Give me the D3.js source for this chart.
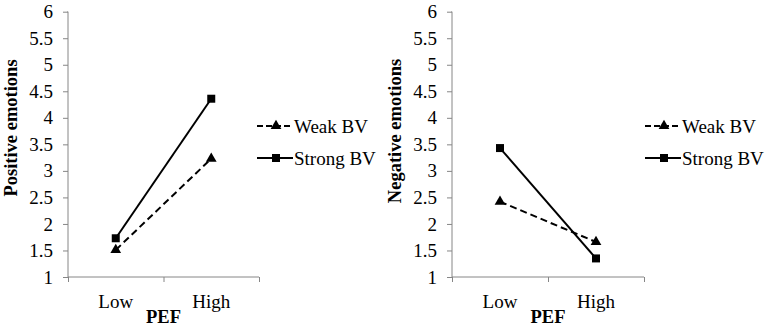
<!DOCTYPE html>
<html>
<head>
<meta charset="utf-8">
<script src="https://cdn.jsdelivr.net/npm/d3@7"></script>
</head>
<body style="margin:0;background:#fff">
<svg id="chart" width="765" height="329"></svg>
<script>
const categories = ["Low", "High"];
const yTicks = [1, 1.5, 2, 2.5, 3, 3.5, 4, 4.5, 5, 5.5, 6];
const seriesNames = ["Weak BV", "Strong BV"];

// positive emotions
const posWeak = [1.51, 3.23];
const posStrong = [1.73, 4.36];

// negative emotions
const negWeak = [2.42, 1.66];
const negStrong = [3.43, 1.35];

const FONT = "'Times New Roman', Times, serif";
const svg = d3.select("#chart");

function drawPanel(opts) {
    const g = svg.append("g");
    const x0 = opts.x0, x1 = opts.x1;
    const yTop = 11.7, yBottom = 277;

    const y = d3.scaleLinear().domain([1, 6]).range([yBottom, yTop]);
    const x = d3.scalePoint().domain(categories).range([x0, x1]).padding(0.5);
    const xEdges = d3.scaleLinear().domain([0, categories.length]).range([x0, x1]);

    // y axis
    const yAxis = g.append("g")
        .attr("transform", `translate(${x0},0)`)
        .call(d3.axisLeft(y).tickValues(yTicks).tickSize(5).tickPadding(10).tickFormat(d => String(d)));
    yAxis.select(".domain").attr("stroke", "#868686").attr("d", `M-0.5,${yTop}H0V${yBottom}`);
    yAxis.selectAll(".tick line").attr("stroke", "#868686");
    yAxis.selectAll(".tick text")
        .style("font-family", FONT)
        .style("font-size", "19px");

    // x axis
    const xAxis = g.append("g")
        .attr("transform", `translate(0,${yBottom})`)
        .call(d3.axisBottom(xEdges).tickValues(d3.range(categories.length + 1)).tickSize(5).tickFormat(""));
    xAxis.select(".domain").attr("stroke", "#868686").attr("d", `M${x0},0H${x1}`);
    xAxis.selectAll(".tick line").attr("stroke", "#868686");

    g.selectAll(".cat")
        .data(categories)
        .join("text")
        .attr("x", d => x(d))
        .attr("y", 308)
        .attr("text-anchor", "middle")
        .style("font-family", FONT)
        .style("font-size", "19px")
        .text(d => d);

    g.append("text")
        .attr("x", (x0 + x1) / 2)
        .attr("y", 323)
        .attr("text-anchor", "middle")
        .style("font-family", FONT)
        .style("font-size", "18.5px")
        .style("font-weight", "bold")
        .text("PEF");

    g.append("text")
        .attr("transform", `translate(${opts.titleX},${opts.titleY}) rotate(-90)`)
        .attr("text-anchor", "middle")
        .attr("dy", "0.35em")
        .style("font-family", FONT)
        .style("font-size", "18.5px")
        .style("font-weight", "bold")
        .text(opts.title);

    const line = d3.line().x((d, i) => x(categories[i])).y(d => y(d));
    const series = [
        { name: seriesNames[0], values: opts.weak, dash: "7,4", symbol: d3.symbolTriangle, size: 50 },
        { name: seriesNames[1], values: opts.strong, dash: null, symbol: d3.symbolSquare, size: 64 }
    ];

    series.forEach(s => {
        g.append("path")
            .datum(s.values)
            .attr("fill", "none")
            .attr("stroke", "#000")
            .attr("stroke-width", 2)
            .attr("stroke-dasharray", s.dash)
            .attr("d", line);
        g.selectAll(null)
            .data(s.values)
            .join("path")
            .attr("transform", (d, i) => `translate(${x(categories[i])},${y(d)})`)
            .attr("d", d3.symbol().type(s.symbol).size(s.size))
            .attr("fill", "#000");
    });

    // legend
    const lx = opts.legendX;
    series.forEach((s, i) => {
        const ly = 126 + i * 32;
        g.append("line")
            .attr("x1", lx).attr("x2", lx + 36)
            .attr("y1", ly).attr("y2", ly)
            .attr("stroke", "#000")
            .attr("stroke-width", 2)
            .attr("stroke-dasharray", s.dash ? "6,3" : null);
        g.append("path")
            .attr("transform", `translate(${lx + 19},${ly})`)
            .attr("d", d3.symbol().type(s.symbol).size(s.size))
            .attr("fill", "#000");
        g.append("text")
            .attr("x", lx + 37)
            .attr("y", ly)
            .attr("dy", "0.35em")
            .style("font-family", FONT)
            .style("font-size", "19px")
            .text(s.name);
    });
}

drawPanel({ x0: 68, x1: 259, title: "Positive emotions", titleX: 11, titleY: 128,
            weak: posWeak, strong: posStrong, legendX: 257 });
drawPanel({ x0: 452, x1: 644, title: "Negative emotions", titleX: 395, titleY: 131,
            weak: negWeak, strong: negStrong, legendX: 645 });
</script>
</body>
</html>
